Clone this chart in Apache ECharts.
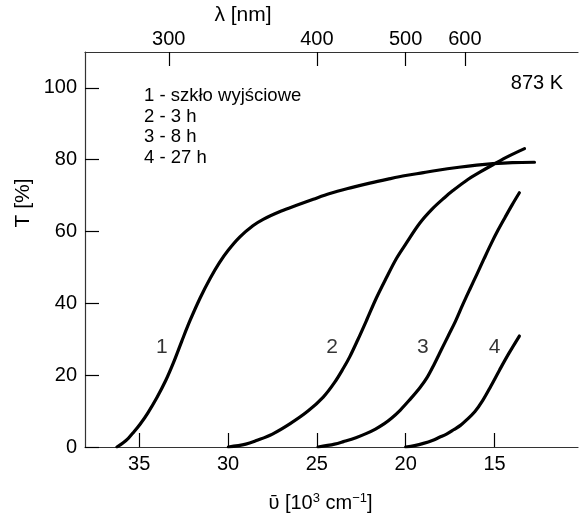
<!DOCTYPE html>
<html>
<head>
<meta charset="utf-8">
<script src="https://cdn.jsdelivr.net/npm/echarts@6/dist/echarts.min.js"></script>
<style>
  html, body { margin: 0; padding: 0; background: #fff; }
  #chart { width: 579px; height: 516px; }
</style>
</head>
<body>
<div id="chart"></div>
<script>
// Wavenumber [10^3 cm^-1] vs transmission T [%] for glass annealed at 873 K
const curve1 = [[36.25,0],[35.9,1.2],[35.6,2.5],[35.3,4.2],[34.94,6.4],[34.5,9.6],[34.0,13.8],[33.5,18.6],[33.07,23.5],[32.6,29.5],[32.13,35.3],[31.57,41.5],[31.0,47.0],[30.5,51.2],[30.0,54.7],[29.33,58.5],[28.6,61.6],[28.02,63.4],[27.0,65.7],[26.14,67.3],[25.2,69.0],[24.27,70.6],[23.0,72.3],[22.02,73.5],[21.0,74.6],[20.0,75.6],[19.0,76.4],[18.28,77.0],[17.0,77.9],[16.0,78.5],[15.09,78.9],[14.0,79.2],[12.75,79.3]];
const curve2 = [[29.98,0],[29.0,0.8],[28.4,1.8],[27.5,3.6],[26.5,6.5],[25.5,10.0],[24.64,13.9],[24.0,18.0],[23.5,22.0],[23.15,25.1],[22.7,29.8],[22.2,35.3],[21.65,41.5],[21.1,47.0],[20.52,52.5],[20.0,56.5],[19.21,62.3],[18.5,66.3],[17.8,69.5],[17.34,71.4],[16.5,74.5],[15.8,76.6],[15.09,78.6],[14.2,81.0],[13.31,83.1]];
const curve3 = [[24.93,0],[24.0,0.8],[23.5,1.5],[22.8,2.6],[22.2,3.8],[21.7,5.0],[21.2,6.5],[20.8,8.0],[20.3,10.3],[19.8,13.0],[19.2,16.5],[18.8,19.3],[18.4,23.0],[18.0,27.0],[17.6,31.0],[17.2,35.0],[16.8,39.5],[16.4,43.8],[16.0,48.0],[15.6,52.3],[15.2,56.5],[14.8,60.4],[14.4,64.0],[14.0,67.5],[13.6,70.8]];
const curve4 = [[20.0,0],[19.5,0.4],[19.0,1.0],[18.5,1.8],[18.1,2.7],[17.7,3.6],[17.3,4.8],[16.9,6.1],[16.6,7.4],[16.1,9.9],[15.66,13.0],[15.2,17.0],[14.72,21.4],[14.2,26.0],[13.6,30.9]];

const curveNames = ['1', '2', '3', '4'];
const curveLabelPos = [[33.72, 27.9], [24.14, 27.9], [19.03, 27.9], [15.0, 27.9]];

const legendLines = ['1 - szkło wyjściowe', '2 - 3 h', '3 - 8 h', '4 - 27 h'];
const tempLabel = '873 K';

const xTicks = [35, 30, 25, 20, 15];
const yTicks = [0, 20, 40, 60, 80, 100];
const lambdaTicks = [300, 400, 500, 600];   // nm
const lambdaPos = lambdaTicks.map(l => 1e4 / l); // 10^3 cm^-1

const FONT = '"Liberation Sans", Arial, sans-serif';
const X_MIN = 10.3, X_MAX = 38.05;

const chart = echarts.init(document.getElementById('chart'), null, { renderer: 'canvas' });

const lineSeries = [curve1, curve2, curve3, curve4].map((d, i) => ({
  type: 'line',
  name: curveNames[i],
  data: d,
  smooth: 0.35,
  showSymbol: false,
  lineStyle: { color: '#000', width: 3.2, cap: 'round', join: 'round' },
  xAxisIndex: 0,
  yAxisIndex: 0,
  z: 3
}));

const labelSeries = {
  type: 'scatter',
  data: curveLabelPos.map((p, i) => ({ value: p, name: curveNames[i] })),
  symbolSize: 0,
  label: {
    show: true,
    position: 'inside',
    formatter: p => p.name,
    color: '#000',
    fontFamily: FONT,
    fontSize: 21
  },
  silent: true
};

const axisLineStyle = { color: '#333', width: 1.2 };
const tickStyle = { color: '#000', width: 1.2 };

chart.setOption({
  animation: false,
  backgroundColor: '#fff',
  grid: { left: 85, right: 1, top: 52, bottom: 69, containLabel: false, outerBoundsMode: 'none' },
  xAxis: [
    {
      type: 'value',
      position: 'bottom',
      inverse: true,
      min: X_MIN,
      max: X_MAX,
      axisLine: { show: true, lineStyle: axisLineStyle },
      axisTick: { show: true, inside: true, length: 14, customValues: xTicks, lineStyle: tickStyle },
      axisLabel: { customValues: xTicks, color: '#000', fontFamily: FONT, fontSize: 20, margin: 7 },
      splitLine: { show: false },
      name: 'ῡ [10{sup|3} cm{sup|−1}]',
      nameLocation: 'middle',
      nameGap: 45,
      nameTextStyle: {
        color: '#000', fontFamily: FONT, fontSize: 20, padding: [0, 22, 0, 0],
        rich: {
          sup: { fontFamily: FONT, fontSize: 13, color: '#000', verticalAlign: 'top', padding: [0, 0, 10, 0] }
        }
      }
    },
    {
      type: 'value',
      position: 'top',
      inverse: true,
      min: X_MIN,
      max: X_MAX,
      axisLine: { show: true, lineStyle: axisLineStyle },
      axisTick: { show: true, inside: true, length: 14, customValues: lambdaPos, lineStyle: tickStyle },
      axisLabel: {
        customValues: lambdaPos,
        formatter: v => String(Math.round(1e4 / v)),
        color: '#000', fontFamily: FONT, fontSize: 20, margin: 3
      },
      splitLine: { show: false }
    }
  ],
  yAxis: {
    type: 'value',
    min: 0,
    max: 110,
    axisLine: { show: true, lineStyle: axisLineStyle },
    axisTick: { show: true, inside: true, length: 14, customValues: yTicks, lineStyle: tickStyle },
    axisLabel: { customValues: yTicks, color: '#000', fontFamily: FONT, fontSize: 20, margin: 8 },
    splitLine: { show: false }
  },
  graphic: [
    {
      type: 'text',
      x: 23, y: 203,
      rotation: Math.PI / 2,
      style: { text: 'T [%]', fill: '#000', font: '21px ' + FONT, align: 'center', verticalAlign: 'middle' }
    },
    {
      type: 'text',
      x: 243, y: 15,
      style: { text: 'λ [nm]', fill: '#000', font: '21px ' + FONT, align: 'center', verticalAlign: 'middle' }
    },
    {
      type: 'text',
      x: 537, y: 83,
      style: { text: tempLabel, fill: '#000', font: '20px ' + FONT, align: 'center', verticalAlign: 'middle' }
    },
    ...legendLines.map((t, i) => ({
      type: 'text',
      x: 144, y: 96 + i * 20.7,
      style: { text: t, fill: '#000', font: '18.5px ' + FONT, align: 'left', verticalAlign: 'middle' }
    }))
  ],
  series: [...lineSeries, labelSeries]
});
</script>
</body>
</html>
